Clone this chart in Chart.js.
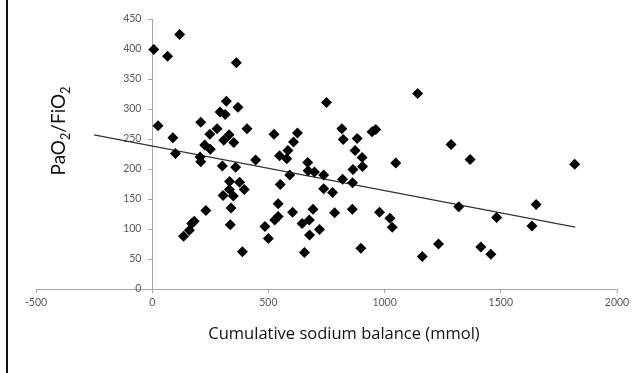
<!DOCTYPE html>
<html>
<head>
<meta charset="utf-8">
<script src="https://cdn.jsdelivr.net/npm/chart.js@4.4.0/dist/chart.umd.min.js"></script>
<style>
  body { margin: 0; background: #fff; }
  #wrap { position: relative; width: 642px; height: 373px; }
  #edge { position: absolute; left: 6px; top: 0; width: 2px; height: 373px; background: #111; }
</style>
</head>
<body>
<div id="wrap">
  <canvas id="myChart" width="642" height="373"></canvas>
  <div id="edge"></div>
</div>
<script>
// cumulative sodium balance (mmol) and PaO2/FiO2 for each patient
const sodium = [7, 66, 118, 25, 89, 100, 209, 226, 250, 248, 279, 292, 314, 319, 369, 362,
  206, 209, 308, 331, 351, 408, 302, 359, 445, 524, 548, 579, 584, 608, 625, 592,
  333, 376, 551, 750, 1142, 816, 822, 882, 946, 962, 873, 903, 905, 864, 1048, 1286,
  669, 671, 698, 738, 819, 862, 135, 160, 170, 181, 231, 305, 332, 349, 339, 336,
  388, 396, 542, 527, 542, 485, 500, 604, 645, 655, 676, 677, 692, 720, 738, 776,
  785, 861, 898, 978, 1023, 1033, 1162, 1232, 1368, 1818, 1319, 1482, 1652, 1634, 1414, 1457];
const pfRatio = [399, 388, 424, 272, 252, 226, 278, 240, 233, 258, 267, 295, 291, 313, 303, 377,
  220, 212, 248, 257, 244, 267, 205, 203, 215, 258, 222, 217, 231, 245, 260, 190,
  179, 178, 174, 311, 326, 267, 249, 251, 262, 266, 231, 219, 204, 199, 210, 241,
  211, 197, 195, 190, 183, 177, 88, 98, 109, 113, 131, 156, 166, 155, 135, 107,
  62, 166, 142, 115, 121, 104, 84, 128, 109, 61, 115, 90, 133, 99, 167, 161,
  127, 133, 68, 128, 118, 103, 54, 75, 216, 208, 137, 119, 141, 105, 70, 58];

// linear trend line end points
const trendX = [-250, 1820];
const trendY = [257, 103];

const xTicks = [-500, 0, 500, 1000, 1500, 2000];
const yTicks = [0, 50, 100, 150, 200, 250, 300, 350, 400, 450];

const yTitle = [['PaO', false], ['2', true], ['/FiO', false], ['2', true]];
const xTitle = 'Cumulative sodium balance (mmol)';

const axisGray = '#a6a6a6';
const labelGray = '#595959';

const titlesPlugin = {
    id: 'titles',
    afterDraw(chart) {
        const ctx = chart.ctx;
        ctx.save();
        ctx.fillStyle = '#111';
        ctx.textBaseline = 'alphabetic';
        ctx.textAlign = 'left';

        // rotated y title with subscripts
        const big = '19px Lato', small = '12.5px Lato';
        let total = 0;
        yTitle.forEach(([t, sub]) => {
            ctx.font = sub ? small : big;
            total += ctx.measureText(t).width;
        });
        ctx.translate(65, 131);
        ctx.rotate(-Math.PI / 2);
        let x = -total / 2;
        yTitle.forEach(([t, sub]) => {
            ctx.font = sub ? small : big;
            ctx.fillText(t, x, sub ? 5 : 0);
            x += ctx.measureText(t).width;
        });
        ctx.restore();

        ctx.save();
        ctx.fillStyle = '#111';
        ctx.font = '16.5px "Open Sans"';
        ctx.textAlign = 'center';
        ctx.textBaseline = 'middle';
        ctx.fillText(xTitle, 344, 334);
        ctx.restore();
    }
};

let ctx = document.getElementById('myChart').getContext('2d');
let myChart = new Chart(ctx, {
    type: 'scatter',
    data: {
        datasets: [{
            label: 'Patients',
            data: sodium.map((v, i) => ({ x: v, y: pfRatio[i] })),
            pointStyle: 'rectRot',
            pointRadius: 5.5,
            pointHoverRadius: 5.5,
            backgroundColor: '#000',
            borderWidth: 0
        }, {
            type: 'line',
            label: 'Linear',
            data: trendX.map((v, i) => ({ x: v, y: trendY[i] })),
            borderColor: '#333',
            borderWidth: 1.2,
            pointRadius: 0,
            fill: false
        }]
    },
    options: {
        responsive: false,
        animation: false,
        events: [],
        layout: { padding: { left: 36, right: 25, top: 19, bottom: 0 } },
        plugins: {
            legend: { display: false },
            tooltip: { enabled: false }
        },
        scales: {
            x: {
                type: 'linear',
                min: -500,
                max: 2000,
                afterBuildTicks: s => { s.ticks = xTicks.map(v => ({ value: v })); },
                afterFit: s => { s.height = 84; },
                grid: { drawOnChartArea: false, tickLength: 4, color: axisGray },
                border: { color: axisGray },
                ticks: {
                    color: labelGray, font: { family: 'Lato', size: 10.5 }, padding: 3,
                    callback: v => String(v)
                }
            },
            y: {
                type: 'linear',
                position: { x: 0 },
                min: 0,
                max: 450,
                afterBuildTicks: s => { s.ticks = yTicks.map(v => ({ value: v })); },
                grid: { drawOnChartArea: false, tickLength: 4, color: axisGray },
                border: { color: axisGray },
                ticks: {
                    color: labelGray, font: { family: 'Lato', size: 10.5 },
                    // labels on a positioned axis sit right on the line, so pad with spaces
                    callback: v => v + '    '
                }
            }
        }
    },
    plugins: [titlesPlugin]
});
</script>
</body>
</html>
